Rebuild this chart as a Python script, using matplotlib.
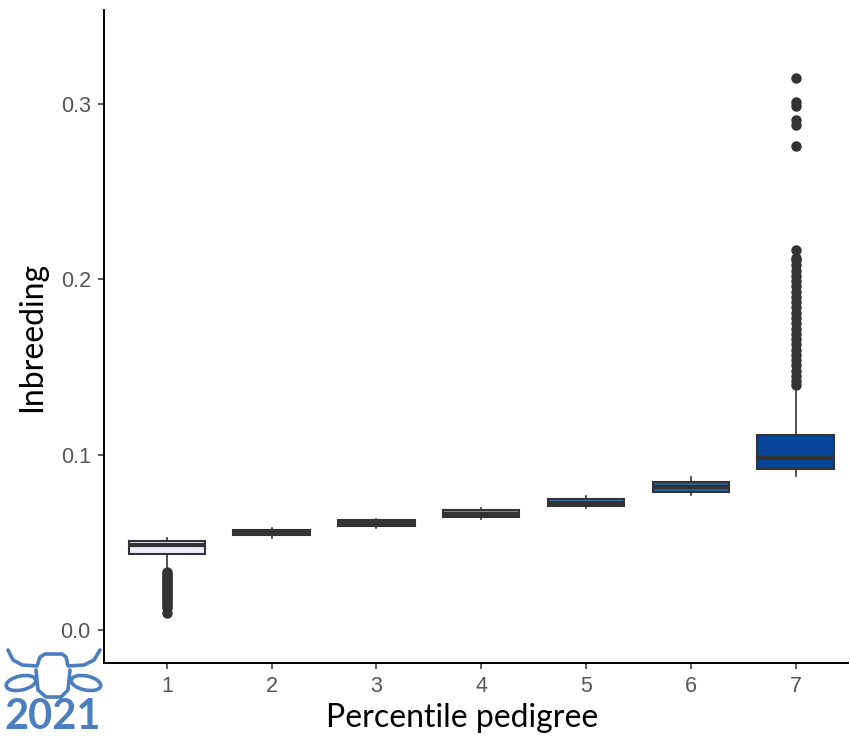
import matplotlib
matplotlib.use("Agg")
import matplotlib.pyplot as plt
from matplotlib.patches import Ellipse

plt.rcParams['font.family'] = ['Lato', 'DejaVu Sans']

# box statistics (Inbreeding by pedigree percentile)
groups = ['1', '2', '3', '4', '5', '6', '7']
q1 = [0.0434, 0.0540, 0.0592, 0.0642, 0.0708, 0.0787, 0.0918]
med = [0.0483, 0.0556, 0.0609, 0.0662, 0.0727, 0.0815, 0.0983]
q3 = [0.0508, 0.0572, 0.0626, 0.0682, 0.0747, 0.0844, 0.1112]
whislo = [0.0342, 0.0523, 0.0580, 0.0633, 0.0694, 0.0770, 0.0879]
whishi = [0.0525, 0.0584, 0.0633, 0.0694, 0.0764, 0.0875, 0.1386]
fliers = [
    [0.0330, 0.0320, 0.0310, 0.0300, 0.0290, 0.0280, 0.0270, 0.0260, 0.0250,
     0.0240, 0.0230, 0.0220, 0.0210, 0.0200, 0.0190, 0.0180, 0.0170, 0.0160,
     0.0150, 0.0140, 0.0125, 0.0097],
    [], [], [], [], [],
    [0.1395, 0.1420, 0.1450, 0.1480, 0.1510, 0.1540, 0.1570, 0.1600, 0.1630,
     0.1660, 0.1690, 0.1720, 0.1750, 0.1780, 0.1810, 0.1840, 0.1870, 0.1900,
     0.1930, 0.1960, 0.1990, 0.2020, 0.2050, 0.2080, 0.2110, 0.2122, 0.2170,
     0.2760, 0.2880, 0.2910, 0.2990, 0.3010, 0.3150],
]
fills = ['#ECEFFC', '#C4D2EE', '#9BB6E0', '#6F97D0', '#4579BF', '#2562AF', '#08449A']

stats = []
for i in range(len(groups)):
    stats.append(dict(label=groups[i], q1=q1[i], med=med[i], q3=q3[i],
                      whislo=whislo[i], whishi=whishi[i], fliers=fliers[i]))

fig = plt.figure(figsize=(8.5, 7.4), dpi=100)
ax = fig.add_axes([104 / 850, 1 - 663 / 740, 744 / 850, 653 / 740])

dark = '#333333'
bp = ax.bxp(stats, positions=range(1, 8), widths=0.73, patch_artist=True,
            showcaps=False,
            boxprops=dict(edgecolor=dark, linewidth=1.5),
            medianprops=dict(color=dark, linewidth=3.0, solid_capstyle='butt'),
            whiskerprops=dict(color=dark, linewidth=1.2),
            flierprops=dict(marker='o', markersize=6.5, markerfacecolor=dark,
                            markeredgecolor=dark))
for patch, c in zip(bp['boxes'], fills):
    patch.set_facecolor(c)

ax.set_xlim(0.4, 7.5)
ax.set_ylim(-0.0188, 0.3537)
ax.set_yticks([0.0, 0.1, 0.2, 0.3])
ax.set_yticklabels(['0.0', '0.1', '0.2', '0.3'])
ax.set_xticks(range(1, 8))
ax.set_xticklabels(groups)
ax.tick_params(axis='both', colors='#333333', labelcolor='#555555',
               labelsize=15.5, length=4.5, width=1.1, pad=5)
for lab in ax.get_xticklabels() + ax.get_yticklabels():
    lab.set_family(['Liberation Sans', 'DejaVu Sans'])
for s in ['top', 'right']:
    ax.spines[s].set_visible(False)
for s in ['left', 'bottom']:
    ax.spines[s].set_linewidth(1.4)
    ax.spines[s].set_color('black')

ax.set_xlabel('Percentile pedigree', fontsize=23, labelpad=8)
ax.xaxis.set_label_coords((462 - 104) / 744, -0.062)
ax.set_ylabel('Inbreeding', fontsize=23, labelpad=10)

# logo at the lower left: simple cow head outline and the year
blue = '#4A7EBF'
lax = fig.add_axes([0, 1 - 702 / 740, 110 / 850, 57 / 740])
lax.set_xlim(0, 110)
lax.set_ylim(702, 645)
lax.axis('off')
lax.plot([8, 13, 22, 37, 40, 45, 62, 66, 68, 84, 94, 100],
         [650, 660, 665, 666, 657, 654, 654, 657, 666, 665, 660, 650],
         color=blue, lw=2.6, solid_capstyle='round', solid_joinstyle='round')
lax.plot([36, 38, 46, 61, 68, 70], [670, 690, 697, 697, 690, 670],
         color=blue, lw=2.6, solid_capstyle='round', solid_joinstyle='round')
lax.add_patch(Ellipse((21, 683), 30, 14, angle=-12, fill=False,
                      edgecolor=blue, lw=2.6))
lax.add_patch(Ellipse((86, 683), 30, 14, angle=12, fill=False,
                      edgecolor=blue, lw=2.6))
fig.text(4 / 850, 1 - 736 / 740, '2021', fontsize=30, fontweight='bold',
         color=blue, ha='left', va='bottom')

fig.savefig('out.png', dpi=100)
